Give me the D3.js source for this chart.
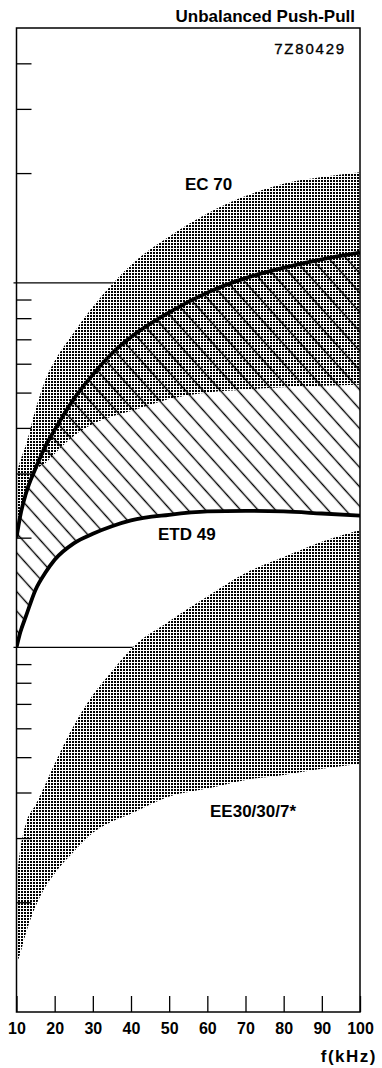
<!DOCTYPE html>
<html>
<head>
<meta charset="utf-8">
<script src="https://cdn.jsdelivr.net/npm/d3@7"></script>
<style>
  html, body { margin: 0; padding: 0; background: #fff; }
  svg { display: block; }
</style>
</head>
<body>
<div id="chart"></div>
<script>
// frequency samples (kHz) shared by all curves
var freq       = [10,   11,   12.5, 15,   17.5, 20,   25,   30,   35,   40,   50,   60,   70,   80,   90,   100];
// EC70 dotted band
var ec70Upper  = [3.0,  3.25, 3.6,  4.5,  5.4,  6.1,  7.3,  8.6,  9.9,  11.2, 13.4, 15.5, 17.3, 18.7, 19.5, 20.1];
var ec70Lower  = [2.0,  2.25, 2.6,  3.05, 3.2,  3.4,  3.8,  4.1,  4.3,  4.45, 4.8,  5.0,  5.1,  5.17, 5.22, 5.25];
// thick upper limit curve and ETD49 curve (hatched between)
var limitUpper = [2.0,  2.3,  2.65, 3.1,  3.55, 3.95, 4.8,  5.6,  6.4,  7.1,  8.3,  9.4,  10.3, 11.0, 11.6, 12.1];
var etd49      = [1.0,  1.1,  1.22, 1.44, 1.6,  1.74, 1.93, 2.05, 2.15, 2.23, 2.31, 2.36, 2.37, 2.36, 2.33, 2.30];
// EE30/30/7 dotted band
var ee30Upper  = [0.23, 0.28, 0.33, 0.37, 0.42, 0.48, 0.61, 0.74, 0.86, 0.99, 1.18, 1.38, 1.6,  1.77, 1.95, 2.1];
var ee30Lower  = [0.135,0.145,0.165,0.195,0.22, 0.24, 0.275,0.31, 0.333,0.35, 0.39, 0.41, 0.433,0.447,0.465,0.48];

var xTicks = [10, 20, 30, 40, 50, 60, 70, 80, 90, 100];
var yMinorTicks = [0.2, 0.3, 0.4, 0.5, 0.6, 0.7, 0.8, 0.9, 2, 3, 4, 5, 6, 7, 8, 9, 20, 30, 40];
var yDecades = [1, 10];

var width = 382, height = 1068;
var margin = ({top: 28, right: 360, bottom: 1012, left: 16.5});
var font = "'Liberation Sans', Arial, Helvetica, sans-serif";

var svg = d3.select("#chart").append("svg")
    .attr("width", width)
    .attr("height", height)
    .attr("viewBox", [0, 0, width, height]);

var x = d3.scaleLinear().domain([10, 100]).range([margin.left, margin.right]);
var y = d3.scaleLog().domain([0.1, 50]).range([margin.bottom, margin.top]);

var defs = svg.append("defs");

defs.append("clipPath").attr("id", "plotClip")
  .append("rect")
    .attr("x", margin.left).attr("y", margin.top)
    .attr("width", margin.right - margin.left).attr("height", margin.bottom - margin.top);

// stipple used for the two core bands
var dots = defs.append("pattern")
    .attr("id", "dots")
    .attr("patternUnits", "userSpaceOnUse")
    .attr("width", 3).attr("height", 3);
dots.append("rect").attr("width", 3).attr("height", 3).attr("fill", "#fff");
dots.append("rect").attr("x", 0).attr("y", 0).attr("width", 2).attr("height", 2).attr("fill", "#000");

// diagonal hatch
var hatch = defs.append("pattern")
    .attr("id", "hatch")
    .attr("patternUnits", "userSpaceOnUse")
    .attr("width", 13).attr("height", 13)
    .attr("patternTransform", "rotate(-42)");
hatch.append("line")
    .attr("x1", 6.5).attr("y1", -1).attr("x2", 6.5).attr("y2", 14)
    .attr("stroke", "#000").attr("stroke-width", 1.4);

var rows = freq.map((f, i) => ({
  f: f,
  ec70Upper: ec70Upper[i], ec70Lower: ec70Lower[i],
  limitUpper: limitUpper[i], etd49: etd49[i],
  ee30Upper: ee30Upper[i], ee30Lower: ee30Lower[i]
}));

var band = (hi, lo) => d3.area()
    .x(d => x(d.f))
    .y0(d => y(d[lo]))
    .y1(d => y(d[hi]))
    .curve(d3.curveMonotoneX);

var line = key => d3.line()
    .x(d => x(d.f))
    .y(d => y(d[key]))
    .curve(d3.curveMonotoneX);

// decade lines across the plot
svg.append("g")
  .selectAll("line")
  .data(yDecades)
  .join("line")
    .attr("x1", margin.left - 3).attr("x2", margin.right)
    .attr("y1", d => y(d)).attr("y2", d => y(d))
    .attr("stroke", "#000").attr("stroke-width", 1.3);

var plot = svg.append("g").attr("clip-path", "url(#plotClip)");

plot.append("path")
    .datum(rows)
    .attr("d", band("ec70Upper", "ec70Lower"))
    .attr("fill", "url(#dots)");

plot.append("path")
    .datum(rows)
    .attr("d", band("ee30Upper", "ee30Lower"))
    .attr("fill", "url(#dots)");

plot.append("path")
    .datum(rows)
    .attr("d", band("limitUpper", "etd49"))
    .attr("fill", "url(#hatch)");

plot.append("path")
    .datum(rows)
    .attr("d", line("limitUpper"))
    .attr("fill", "none").attr("stroke", "#000").attr("stroke-width", 3.8);

plot.append("path")
    .datum(rows)
    .attr("d", line("etd49"))
    .attr("fill", "none").attr("stroke", "#000").attr("stroke-width", 3.8);

// left minor ticks (inward)
svg.append("g")
    .attr("transform", `translate(${margin.left},0)`)
    .call(d3.axisRight(y).tickValues(yMinorTicks).tickSize(15).tickFormat(""))
    .call(g => g.select(".domain").remove())
    .call(g => g.selectAll(".tick line").attr("stroke", "#000").attr("stroke-width", 1.3));

// frame
svg.append("rect")
    .attr("x", margin.left).attr("y", margin.top)
    .attr("width", margin.right - margin.left).attr("height", margin.bottom - margin.top)
    .attr("fill", "none").attr("stroke", "#000").attr("stroke-width", 1.5);

// bottom axis, ticks pointing up
svg.append("g")
    .attr("transform", `translate(0,${margin.bottom})`)
    .call(d3.axisBottom(x).tickValues(xTicks).tickSizeInner(-16).tickSizeOuter(0).tickPadding(11))
    .call(g => g.select(".domain").remove())
    .call(g => g.selectAll(".tick line").attr("stroke", "#000").attr("stroke-width", 1.3))
    .call(g => g.selectAll(".tick text")
        .attr("font-family", font)
        .attr("font-size", "16px")
        .attr("font-weight", "bold")
        .attr("fill", "#000"));

svg.append("text")
    .attr("x", 377).attr("y", 1062)
    .attr("text-anchor", "end")
    .attr("font-family", font).attr("font-size", "17px").attr("font-weight", "bold")
    .attr("letter-spacing", "1.5px")
    .text("f(kHz)");

svg.append("text")
    .attr("x", 355).attr("y", 21.5)
    .attr("text-anchor", "end")
    .attr("font-family", font).attr("font-size", "17px").attr("font-weight", "bold")
    .text("Unbalanced Push-Pull");

svg.append("text")
    .attr("x", 346).attr("y", 53.5)
    .attr("text-anchor", "end")
    .attr("font-family", font).attr("font-size", "15px")
    .attr("letter-spacing", "1.8px")
    .attr("stroke", "#000").attr("stroke-width", 0.35)
    .text("7Z80429");

var labels = [
  {t: "EC 70", x: 185, y: 190},
  {t: "ETD 49", x: 158, y: 540},
  {t: "EE30/30/7*", x: 210, y: 817}
];
svg.append("g")
  .selectAll("text")
  .data(labels)
  .join("text")
    .attr("x", d => d.x).attr("y", d => d.y)
    .attr("font-family", font).attr("font-size", "17px").attr("font-weight", "bold")
    .text(d => d.t);
</script>
</body>
</html>
